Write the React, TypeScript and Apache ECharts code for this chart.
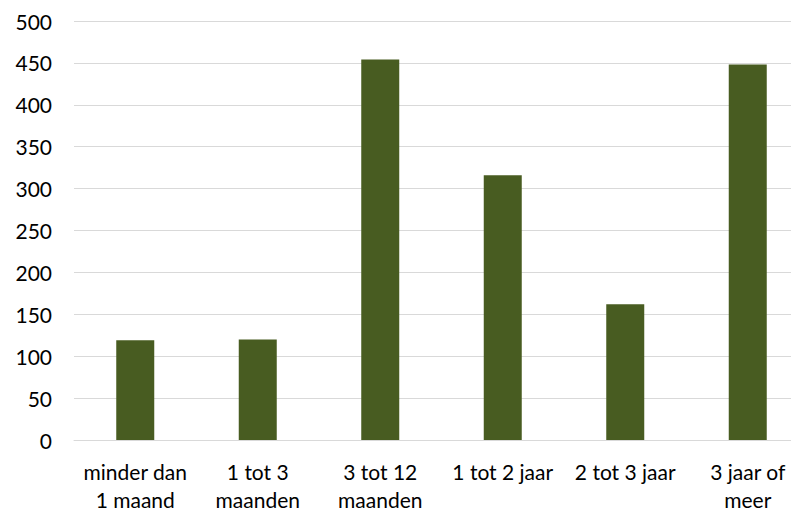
import React, { useEffect, useRef } from "react";
import * as echarts from "echarts";

const categories = [
  "minder dan\n1 maand",
  "1 tot 3\nmaanden",
  "3 tot 12\nmaanden",
  "1 tot 2 jaar",
  "2 tot 3 jaar",
  "3 jaar of\nmeer",
];
const values = [119, 120, 454, 316, 162, 448];

export default function App() {
  const ref = useRef<HTMLDivElement>(null);
  useEffect(() => {
    document.body.style.margin = "0";
    document.body.style.overflow = "hidden";
    const chart = echarts.init(ref.current!, null, { renderer: "svg" });
    chart.setOption({
      animation: false,
      grid: { left: 74, right: 0, top: 21, bottom: 72 },
      xAxis: {
        type: "category",
        data: categories,
        axisTick: { show: false },
        axisLine: { show: true, lineStyle: { color: "#d9d9d9", width: 1 } },
        axisLabel: {
          interval: 0,
          color: "#000",
          fontFamily: "Lato",
          fontSize: 21,
          lineHeight: 28,
          margin: 17,
        },
      },
      yAxis: {
        type: "value",
        min: 0,
        max: 500,
        interval: 50,
        axisLine: { show: false },
        axisTick: { show: false },
        splitLine: { lineStyle: { color: "#d9d9d9", width: 1 } },
        axisLabel: {
          color: "#000",
          fontFamily: "Lato",
          fontSize: 21,
          margin: 22,
        },
      },
      series: [
        {
          type: "bar",
          data: values,
          barWidth: 38,
          itemStyle: { color: "#485C21" },
        },
      ],
    });
    return () => chart.dispose();
  }, []);
  return (
    <div style={{ width: 791, height: 513, overflow: "hidden" }}>
      <div ref={ref} style={{ width: 809, height: 513 }} />
    </div>
  );
}
